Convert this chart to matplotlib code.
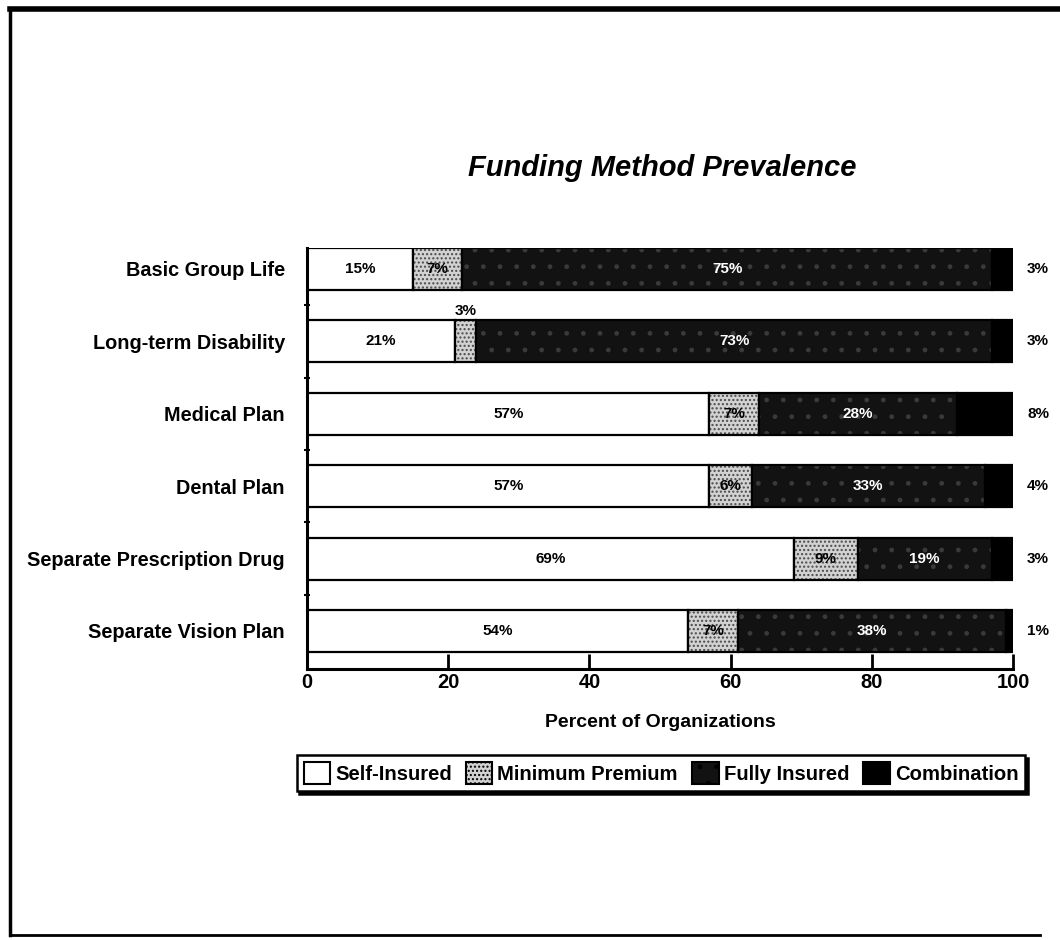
import matplotlib
matplotlib.use("Agg")
import matplotlib.pyplot as plt
from matplotlib import font_manager
from matplotlib.patches import Patch
from matplotlib.lines import Line2D
import numpy as np


# =========================
# Data
# =========================

categories = [
    "Basic Group Life",
    "Long-term Disability",
    "Medical Plan",
    "Dental Plan",
    "Separate Prescription Drug",
    "Separate Vision Plan",
]

series_names = ["Self-Insured", "Minimum Premium", "Fully Insured", "Combination"]

self_insured = [15, 21, 57, 57, 69, 54]
minimum_premium = [7, 3, 7, 6, 9, 7]
fully_insured = [75, 73, 28, 33, 19, 38]
combination = [3, 3, 8, 4, 3, 1]

x_ticks = [0, 20, 40, 60, 80, 100]

title = "Funding Method Prevalence"
x_label = "Percent of Organizations"


# =========================
# Fonts
# =========================

installed = {f.name for f in font_manager.fontManager.ttflist}
NARROW = "Liberation Sans Narrow" if "Liberation Sans Narrow" in installed else "Liberation Sans"
WIDE = "Liberation Sans"

# =========================
# Styles
# =========================

styles = [
    dict(facecolor="white", hatchcolor="white", hatch=None),
    dict(facecolor="#d2d2d2", hatchcolor="#4a4a4a", hatch="...."),
    dict(facecolor="#121212", hatchcolor="#3a3a3a", hatch="."),
    dict(facecolor="black", hatchcolor="black", hatch=None),
]
text_colors = ["black", "black", "white", "white"]


fig = plt.figure(figsize=(10.6, 9.4), dpi=100)
ax = fig.add_axes([307 / 1060, 1 - 669 / 940, 706 / 1060, (669 - 248) / 940])

series = [self_insured, minimum_premium, fully_insured, combination]
y = np.arange(len(categories))
bar_h = 0.58

left = np.zeros(len(categories))
for k, (vals, st) in enumerate(zip(series, styles)):
    vals = np.array(vals, dtype=float)
    # fill + stipple
    ax.barh(
        y, vals, left=left, height=bar_h,
        facecolor=st["facecolor"], edgecolor=st["hatchcolor"],
        hatch=st["hatch"], linewidth=0,
    )
    # outline
    ax.barh(
        y, vals, left=left, height=bar_h,
        fill=False, edgecolor="black", linewidth=1.6,
    )
    for i, v in enumerate(vals):
        label = f"{int(v)}%"
        if k == 3:
            # combination values sit outside the bar on the right
            ax.text(102, y[i], label, ha="left", va="center",
                    fontsize=11, fontweight="bold", family=NARROW,
                    color="black", clip_on=False)
        elif v <= 4:
            # too narrow, put above the bar
            ax.text(left[i] + v / 2, y[i] - bar_h / 2 - 0.04, label,
                    ha="center", va="bottom", fontsize=11,
                    fontweight="bold", family=NARROW, color="black")
        else:
            ax.text(left[i] + v / 2, y[i], label, ha="center", va="center",
                    fontsize=11, fontweight="bold", family=NARROW,
                    color=text_colors[k])
    left += vals

ax.set_yticks(y)
ax.set_yticklabels(categories, fontsize=14.3, fontweight="bold", family=NARROW)
ax.tick_params(axis="y", length=0, pad=16)
ax.set_yticks(np.arange(1, len(categories)) - 0.5, minor=True)
ax.tick_params(axis="y", which="minor", direction="inout", length=5, width=1.5)

ax.set_xticks(x_ticks)
ax.set_xticklabels([str(t) for t in x_ticks], fontsize=14.5,
                   fontweight="bold", family=NARROW)
ax.tick_params(axis="x", direction="in", length=11, width=2, pad=3)

ax.set_xlim(0, 100)
ax.set_ylim(len(categories) - 1 + 0.525, -bar_h / 2)

ax.set_xlabel(x_label, fontsize=14, fontweight="bold", family=NARROW,
              labelpad=16)

for side in ["top", "right"]:
    ax.spines[side].set_visible(False)
for side in ["left", "bottom"]:
    ax.spines[side].set_linewidth(2.2)

fig.text(662 / 1060, 1 - 168 / 940, title, ha="center", va="center",
         fontsize=21, fontweight="bold", style="italic", family=WIDE)

handles = [
    Patch(facecolor=st["facecolor"], edgecolor="black",
          hatch=st["hatch"], linewidth=1.5)
    for st in styles
]
leg = fig.legend(
    handles, series_names, loc="center",
    bbox_to_anchor=(661 / 1060, 1 - 773 / 940),
    ncol=4, frameon=True, fancybox=False,
    shadow={"color": "black", "alpha": 1},
    prop={"family": WIDE, "weight": "bold", "size": 14.6},
    handlelength=1.3, handleheight=1.3, handletextpad=0.25,
    columnspacing=0.7, borderpad=0.35, borderaxespad=0,
)
leg.get_frame().set_edgecolor("black")
leg.get_frame().set_linewidth(1.8)

# outer page frame
fig.add_artist(Line2D([10 / 1060, 10 / 1060], [1 - 935 / 940, 1 - 9 / 940],
                      transform=fig.transFigure, color="black", linewidth=2.5))
fig.add_artist(Line2D([10 / 1060, 1.0], [1 - 9 / 940, 1 - 9 / 940],
                      transform=fig.transFigure, color="black", linewidth=4))
fig.add_artist(Line2D([10 / 1060, 1040 / 1060], [1 - 935 / 940, 1 - 935 / 940],
                      transform=fig.transFigure, color="black", linewidth=2))

fig.savefig("out.png", dpi=100)
